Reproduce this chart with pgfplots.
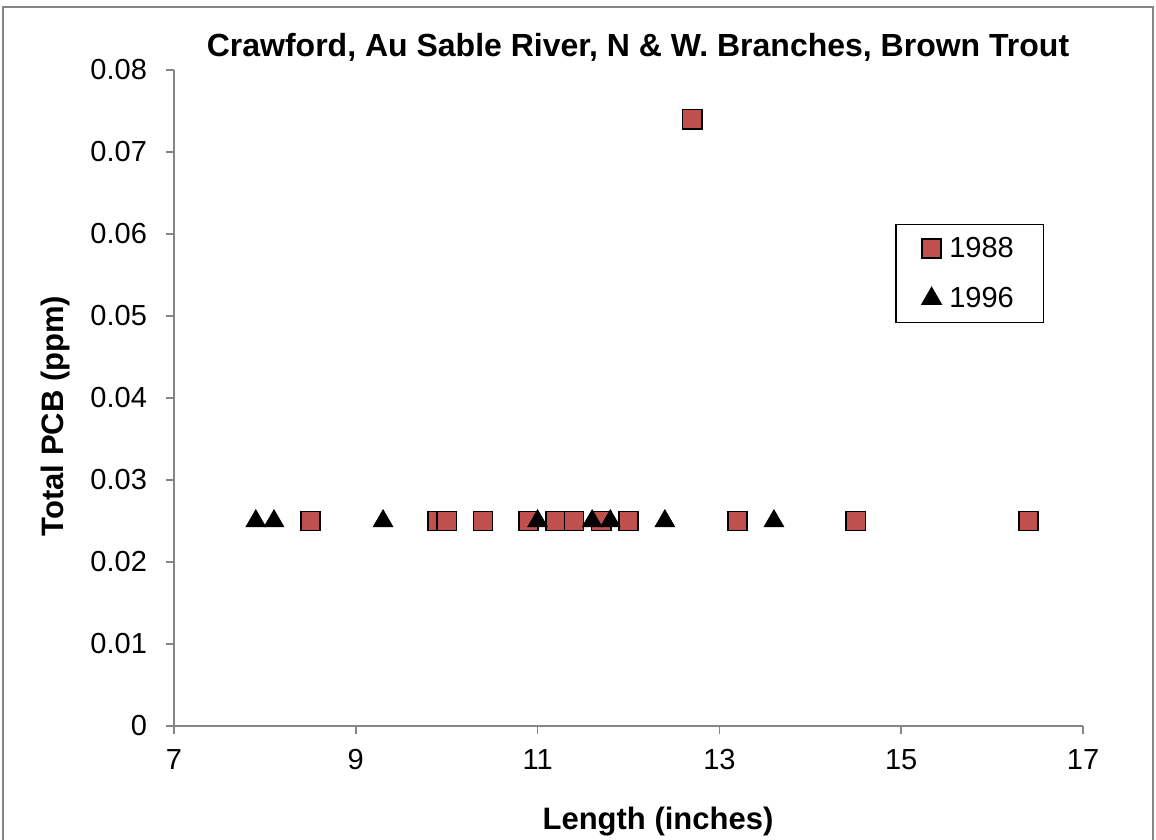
\documentclass[border=0pt]{standalone}
\usepackage{pgfplots}
\pgfplotsset{compat=1.18}
\usepackage{fontspec}
\setmainfont{Liberation Sans}
\definecolor{sqred}{HTML}{C0504D}
\definecolor{axgray}{HTML}{868686}
\begin{document}
\begin{tikzpicture}
\useasboundingbox (-87pt,-57pt) rectangle (491pt,363pt);
\draw[axgray,line width=0.7pt] (-85.5pt,-60pt) -- (-85.5pt,359.5pt) -- (489.5pt,359.5pt) -- (489.5pt,-60pt);
\begin{axis}[
  at={(0pt,0pt)}, anchor=origin,
  width=454.5pt, height=328pt, scale only axis,
  xmin=7, xmax=17, ymin=0, ymax=0.08,
  scaled y ticks=false,
  axis x line*=bottom, axis y line*=left,
  axis line style={axgray, line width=0.8pt},
  tick style={axgray, line width=0.8pt},
  tick align=outside, major tick length=4pt,
  xtick={7,9,11,13,15,17},
  ytick={0,0.01,0.02,0.03,0.04,0.05,0.06,0.07,0.08},
  yticklabels={0,0.01,0.02,0.03,0.04,0.05,0.06,0.07,0.08},
  /pgf/number format/assume math mode=true,
  tick label style={font=\fontsize{14.5}{17}\selectfont},
  yticklabel style={xshift=-6pt},
  xticklabel style={yshift=-4pt},
  legend style={at={(0.7935,0.765)}, anchor=north west, draw=black, line width=0.6pt,
    font=\fontsize{14.5}{17}\selectfont, inner xsep=13pt, inner ysep=4pt, row sep=9.5pt,
    legend cell align=left, /tikz/every odd column/.append style={column sep=2pt}},
  clip=false,
]
\addplot[only marks, mark=square*, mark size=4.8pt, mark options={fill=sqred, draw=black, line width=0.8pt}]
coordinates {(8.5,0.025) (9.9,0.025) (10.0,0.025) (10.4,0.025) (10.9,0.025) (11.2,0.025) (11.4,0.025) (11.7,0.025) (12.0,0.025) (12.7,0.074) (13.2,0.025) (14.5,0.025) (16.4,0.025)};
\addlegendentry{1988}
\addplot[only marks, mark=triangle*, mark size=5.6pt, mark options={fill=black, draw=black}]
coordinates {(7.9,0.025) (8.1,0.025) (9.3,0.025) (11.0,0.025) (11.6,0.025) (11.8,0.025) (12.4,0.025) (13.6,0.025)};
\addlegendentry{1996}
\end{axis}
\node at (232pt,339.5pt) {\fontsize{16}{19}\selectfont\bfseries Crawford, Au Sable River, N \& W. Branches, Brown Trout};
\node[rotate=90] at (-59.5pt,155pt) {\fontsize{15.5}{18}\selectfont\bfseries Total PCB (ppm)};
\node at (242pt,-48pt) {\fontsize{15.5}{18}\selectfont\bfseries Length (inches)};
\end{tikzpicture}
\end{document}
